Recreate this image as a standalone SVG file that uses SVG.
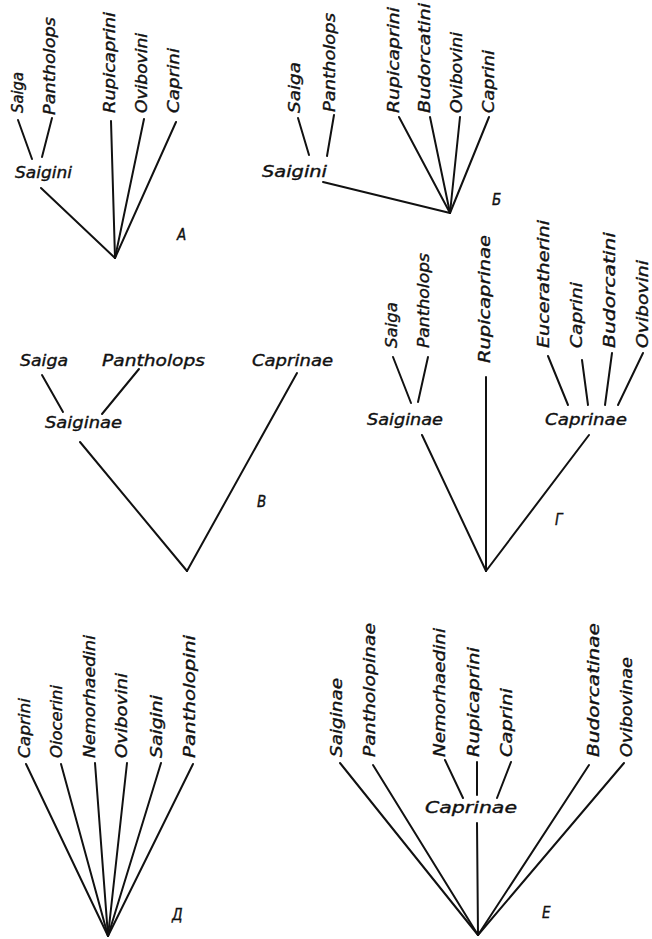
<svg xmlns="http://www.w3.org/2000/svg" width="652" height="939" viewBox="0 0 652 939">
<style>
text{font-family:"DejaVu Sans Condensed","DejaVu Sans",sans-serif;font-style:oblique;fill:#111;stroke:#111;stroke-width:0.35;}
.v{font-size:15px;}
.h{font-size:16px;}
.lab{font-size:15px;}
line{stroke:#111;stroke-width:2;stroke-linecap:round;}
</style>
<rect width="652" height="939" fill="#fff"/>
<g id="connectors">
<!-- A -->
<line x1="18" y1="120" x2="32" y2="159"/>
<line x1="52" y1="118" x2="42" y2="157"/>
<line x1="41" y1="188" x2="115" y2="258"/>
<line x1="111" y1="121" x2="115" y2="258"/>
<line x1="144" y1="119" x2="115" y2="258"/>
<line x1="176" y1="122" x2="115" y2="258"/>
<!-- Б -->
<line x1="298" y1="118" x2="309" y2="155"/>
<line x1="334" y1="115" x2="327" y2="156"/>
<line x1="323" y1="182" x2="450" y2="213"/>
<line x1="399" y1="117" x2="450" y2="213"/>
<line x1="430" y1="117" x2="450" y2="213"/>
<line x1="460" y1="117" x2="450" y2="213"/>
<line x1="489" y1="117" x2="450" y2="213"/>
<!-- В -->
<line x1="42" y1="375" x2="63" y2="412"/>
<line x1="139" y1="369" x2="102" y2="414"/>
<line x1="80" y1="442" x2="187" y2="571"/>
<line x1="297" y1="373" x2="187" y2="571"/>
<!-- Г -->
<line x1="393" y1="357" x2="411" y2="403"/>
<line x1="428" y1="357" x2="418" y2="402"/>
<line x1="422" y1="435" x2="486" y2="571"/>
<line x1="486" y1="377" x2="486" y2="571"/>
<line x1="548" y1="356" x2="568" y2="405"/>
<line x1="582" y1="360" x2="588" y2="405"/>
<line x1="612" y1="353" x2="605" y2="405"/>
<line x1="643" y1="353" x2="618" y2="405"/>
<line x1="589" y1="435" x2="486" y2="571"/>
<!-- Д -->
<line x1="26" y1="764" x2="108" y2="936"/>
<line x1="61" y1="764" x2="108" y2="936"/>
<line x1="95" y1="763" x2="108" y2="936"/>
<line x1="127" y1="763" x2="108" y2="936"/>
<line x1="161" y1="763" x2="108" y2="936"/>
<line x1="193" y1="764" x2="108" y2="936"/>
<!-- Е -->
<line x1="340" y1="763" x2="478" y2="935"/>
<line x1="373" y1="765" x2="478" y2="935"/>
<line x1="445" y1="760" x2="463" y2="798"/>
<line x1="477" y1="762" x2="477" y2="795"/>
<line x1="511" y1="762" x2="497" y2="798"/>
<line x1="477" y1="823" x2="478" y2="935"/>
<line x1="589" y1="765" x2="478" y2="935"/>
<line x1="624" y1="763" x2="478" y2="935"/>
</g>
<g id="panel-A">
<text class="v" transform="translate(23,113) rotate(-90)" textLength="41" lengthAdjust="spacingAndGlyphs">Saiga</text>
<text class="v" transform="translate(55,115) rotate(-90)" textLength="98" lengthAdjust="spacingAndGlyphs">Pantholops</text>
<text class="v" transform="translate(115,113) rotate(-90)" textLength="101" lengthAdjust="spacingAndGlyphs">Rupicaprini</text>
<text class="v" transform="translate(147,113) rotate(-90)" textLength="80" lengthAdjust="spacingAndGlyphs">Ovibovini</text>
<text class="v" transform="translate(179,113) rotate(-90)" textLength="65" lengthAdjust="spacingAndGlyphs">Caprini</text>
<text class="h" x="15" y="178" textLength="57" lengthAdjust="spacingAndGlyphs">Saigini</text>
<text class="lab" x="177" y="240">A</text>
</g>
<g id="panel-B">
<text class="v" transform="translate(300,113) rotate(-90)" textLength="51" lengthAdjust="spacingAndGlyphs">Saiga</text>
<text class="v" transform="translate(335,112) rotate(-90)" textLength="99" lengthAdjust="spacingAndGlyphs">Pantholops</text>
<text class="v" transform="translate(399,113) rotate(-90)" textLength="106" lengthAdjust="spacingAndGlyphs">Rupicaprini</text>
<text class="v" transform="translate(430,113) rotate(-90)" textLength="110" lengthAdjust="spacingAndGlyphs">Budorcatini</text>
<text class="v" transform="translate(462,113) rotate(-90)" textLength="81" lengthAdjust="spacingAndGlyphs">Ovibovini</text>
<text class="v" transform="translate(494,113) rotate(-90)" textLength="63" lengthAdjust="spacingAndGlyphs">Caprini</text>
<text class="h" x="262" y="177" textLength="65" lengthAdjust="spacingAndGlyphs">Saigini</text>
<text class="lab" x="492" y="205">Б</text>
</g>
<g id="panel-V">
<text class="h" x="20" y="366" textLength="48" lengthAdjust="spacingAndGlyphs">Saiga</text>
<text class="h" x="102" y="366" textLength="103" lengthAdjust="spacingAndGlyphs">Pantholops</text>
<text class="h" x="252" y="366" textLength="81" lengthAdjust="spacingAndGlyphs">Caprinae</text>
<text class="h" x="45" y="428" textLength="77" lengthAdjust="spacingAndGlyphs">Saiginae</text>
<text class="lab" x="257" y="507">В</text>
</g>
<g id="panel-G">
<text class="v" transform="translate(397,348) rotate(-90)" textLength="46" lengthAdjust="spacingAndGlyphs">Saiga</text>
<text class="v" transform="translate(429,348) rotate(-90)" textLength="95" lengthAdjust="spacingAndGlyphs">Pantholops</text>
<text class="v" transform="translate(490,363) rotate(-90)" textLength="128" lengthAdjust="spacingAndGlyphs">Rupicaprinae</text>
<text class="v" transform="translate(549,348) rotate(-90)" textLength="128" lengthAdjust="spacingAndGlyphs">Euceratherini</text>
<text class="v" transform="translate(582,348) rotate(-90)" textLength="66" lengthAdjust="spacingAndGlyphs">Caprini</text>
<text class="v" transform="translate(615,348) rotate(-90)" textLength="116" lengthAdjust="spacingAndGlyphs">Budorcatini</text>
<text class="v" transform="translate(648,348) rotate(-90)" textLength="88" lengthAdjust="spacingAndGlyphs">Ovibovini</text>
<text class="h" x="367" y="425" textLength="76" lengthAdjust="spacingAndGlyphs">Saiginae</text>
<text class="h" x="545" y="425" textLength="82" lengthAdjust="spacingAndGlyphs">Caprinae</text>
<text class="lab" x="555" y="525">Г</text>
</g>
<g id="panel-D">
<text class="v" transform="translate(30,758) rotate(-90)" textLength="60" lengthAdjust="spacingAndGlyphs">Caprini</text>
<text class="v" transform="translate(62,758) rotate(-90)" textLength="73" lengthAdjust="spacingAndGlyphs">Oiocerini</text>
<text class="v" transform="translate(95,758) rotate(-90)" textLength="123" lengthAdjust="spacingAndGlyphs">Nemorhaedini</text>
<text class="v" transform="translate(127,758) rotate(-90)" textLength="85" lengthAdjust="spacingAndGlyphs">Ovibovini</text>
<text class="v" transform="translate(162,758) rotate(-90)" textLength="63" lengthAdjust="spacingAndGlyphs">Saigini</text>
<text class="v" transform="translate(195,758) rotate(-90)" textLength="123" lengthAdjust="spacingAndGlyphs">Pantholopini</text>
<text class="lab" x="172" y="920">Д</text>
</g>
<g id="panel-E">
<text class="v" transform="translate(342,757) rotate(-90)" textLength="79" lengthAdjust="spacingAndGlyphs">Saiginae</text>
<text class="v" transform="translate(375,757) rotate(-90)" textLength="134" lengthAdjust="spacingAndGlyphs">Pantholopinae</text>
<text class="v" transform="translate(445,757) rotate(-90)" textLength="129" lengthAdjust="spacingAndGlyphs">Nemorhaedini</text>
<text class="v" transform="translate(479,757) rotate(-90)" textLength="110" lengthAdjust="spacingAndGlyphs">Rupicaprini</text>
<text class="v" transform="translate(512,757) rotate(-90)" textLength="69" lengthAdjust="spacingAndGlyphs">Caprini</text>
<text class="v" transform="translate(599,757) rotate(-90)" textLength="134" lengthAdjust="spacingAndGlyphs">Budorcatinae</text>
<text class="v" transform="translate(632,757) rotate(-90)" textLength="100" lengthAdjust="spacingAndGlyphs">Ovibovinae</text>
<text class="h" x="425" y="813" textLength="92" lengthAdjust="spacingAndGlyphs">Caprinae</text>
<text class="lab" x="542" y="918">Е</text>
</g>
</svg>
